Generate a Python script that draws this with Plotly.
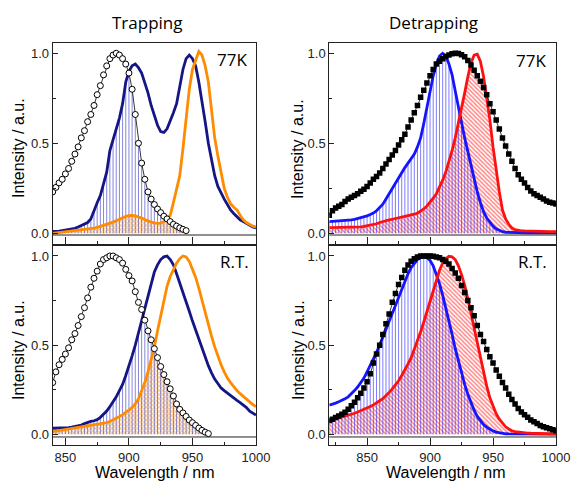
import plotly.graph_objects as go

# ---------------- data ----------------
wl_left = [840 + 2.5 * i for i in range(65)]    # 840 ... 1000 nm
wl_right = [820 + 2.5 * i for i in range(73)]   # 820 ... 1000 nm

# Trapping 77K
trap77_abs = [0.23, 0.255, 0.28, 0.30, 0.33, 0.36, 0.40, 0.44, 0.48, 0.53,
              0.57, 0.62, 0.66, 0.71, 0.77, 0.82, 0.88, 0.93, 0.97, 0.99,
              1.00, 0.99, 0.97, 0.94, 0.89, 0.80, 0.66, 0.50, 0.39, 0.30,
              0.23, 0.19, 0.16, 0.135, 0.115, 0.095, 0.08, 0.065, 0.05, 0.04,
              0.03, 0.022, 0.015]
trap77_navy = [0.010, 0.010, 0.012, 0.015, 0.018, 0.020, 0.022, 0.028, 0.035, 0.042,
               0.050, 0.060, 0.080, 0.130, 0.170, 0.210, 0.280, 0.340, 0.460, 0.520,
               0.570, 0.640, 0.720, 0.840, 0.900, 0.930, 0.940, 0.920, 0.890, 0.840,
               0.780, 0.710, 0.650, 0.600, 0.565, 0.560, 0.580, 0.620, 0.670, 0.720,
               0.820, 0.910, 0.970, 0.990, 0.970, 0.930, 0.840, 0.740, 0.620, 0.500,
               0.400, 0.320, 0.260, 0.220, 0.190, 0.160, 0.130, 0.110, 0.090, 0.075,
               0.065, 0.055, 0.045, 0.035, 0.030]
trap77_orange = [0.000, 0.002, 0.003, 0.005, 0.008, 0.010, 0.012, 0.014, 0.016, 0.018,
                 0.020, 0.022, 0.025, 0.029, 0.033, 0.038, 0.043, 0.049, 0.055, 0.062,
                 0.070, 0.079, 0.088, 0.094, 0.098, 0.100, 0.097, 0.092, 0.085, 0.076,
                 0.068, 0.062, 0.058, 0.055, 0.057, 0.065, 0.080, 0.100, 0.170, 0.240,
                 0.320, 0.470, 0.640, 0.800, 0.910, 0.960, 1.010, 0.990, 0.930, 0.840,
                 0.680, 0.530, 0.430, 0.330, 0.250, 0.200, 0.165, 0.145, 0.130, 0.100,
                 0.075, 0.060, 0.050, 0.040, 0.035]

# Trapping R.T.
trapRT_abs = [0.29, 0.35, 0.39, 0.42, 0.45, 0.485, 0.53, 0.565, 0.61, 0.66,
              0.71, 0.765, 0.825, 0.875, 0.915, 0.955, 0.98, 0.99, 1.00, 1.00,
              0.99, 0.98, 0.96, 0.925, 0.89, 0.86, 0.80, 0.74, 0.70, 0.64,
              0.58, 0.53, 0.48, 0.43, 0.38, 0.335, 0.295, 0.255, 0.215, 0.17,
              0.14, 0.12, 0.10, 0.08, 0.065, 0.05, 0.035, 0.022, 0.012, 0.004]
trapRT_navy = [0.034, 0.034, 0.034, 0.035, 0.035, 0.037, 0.040, 0.043, 0.047, 0.052,
               0.060, 0.068, 0.072, 0.076, 0.082, 0.095, 0.110, 0.130, 0.155, 0.180,
               0.210, 0.245, 0.280, 0.330, 0.380, 0.440, 0.500, 0.570, 0.640, 0.710,
               0.780, 0.850, 0.910, 0.950, 0.980, 0.995, 1.000, 0.980, 0.950, 0.900,
               0.850, 0.800, 0.745, 0.690, 0.635, 0.585, 0.530, 0.475, 0.430, 0.385,
               0.345, 0.310, 0.285, 0.260, 0.245, 0.230, 0.218, 0.205, 0.190, 0.178,
               0.165, 0.150, 0.130, 0.118, 0.108]
trapRT_orange = [0.015, 0.018, 0.021, 0.024, 0.027, 0.030, 0.034, 0.038, 0.041, 0.044,
                 0.047, 0.049, 0.051, 0.053, 0.055, 0.058, 0.062, 0.066, 0.072, 0.080,
                 0.090, 0.100, 0.110, 0.122, 0.135, 0.150, 0.170, 0.200, 0.245, 0.290,
                 0.350, 0.420, 0.490, 0.580, 0.670, 0.760, 0.830, 0.885, 0.925, 0.960,
                 0.985, 1.000, 0.995, 0.970, 0.925, 0.880, 0.820, 0.750, 0.685, 0.620,
                 0.550, 0.490, 0.435, 0.390, 0.350, 0.315, 0.290, 0.265, 0.245, 0.228,
                 0.212, 0.195, 0.180, 0.167, 0.155]

# Detrapping 77K
detr77_sq = [0.100, 0.125, 0.140, 0.150, 0.160, 0.177, 0.190, 0.200, 0.210, 0.220,
             0.233, 0.245, 0.260, 0.280, 0.300, 0.315, 0.335, 0.360, 0.385, 0.410,
             0.435, 0.460, 0.490, 0.520, 0.550, 0.590, 0.630, 0.670, 0.710, 0.755,
             0.795, 0.835, 0.875, 0.910, 0.940, 0.955, 0.970, 0.982, 0.990, 0.997,
             1.000, 0.998, 0.992, 0.980, 0.960, 0.935, 0.905, 0.875, 0.845, 0.810,
             0.770, 0.720, 0.675, 0.630, 0.580, 0.530, 0.485, 0.440, 0.400, 0.360,
             0.325, 0.300, 0.280, 0.255, 0.235, 0.220, 0.210, 0.200, 0.190, 0.180,
             0.173, 0.168, 0.163]
detr77_blue = [0.065, 0.066, 0.067, 0.068, 0.069, 0.070, 0.072, 0.075, 0.078, 0.082,
               0.086, 0.091, 0.097, 0.104, 0.112, 0.125, 0.142, 0.162, 0.190, 0.220,
               0.250, 0.280, 0.310, 0.340, 0.365, 0.390, 0.415, 0.440, 0.480, 0.530,
               0.610, 0.700, 0.790, 0.875, 0.940, 0.985, 1.000, 0.985, 0.940, 0.880,
               0.790, 0.710, 0.615, 0.530, 0.455, 0.370, 0.300, 0.230, 0.170, 0.120,
               0.085, 0.060, 0.040, 0.025, 0.015, 0.009, 0.006, 0.005, 0.004, 0.004,
               0.004, 0.003, 0.003, 0.003, 0.003, 0.002, 0.002, 0.002, 0.002, 0.002,
               0.002, 0.002, 0.002]
detr77_red = [0.032, 0.032, 0.032, 0.032, 0.032, 0.032, 0.032, 0.033, 0.034, 0.035,
              0.036, 0.038, 0.041, 0.044, 0.048, 0.053, 0.060, 0.066, 0.070, 0.074,
              0.078, 0.082, 0.085, 0.088, 0.091, 0.095, 0.100, 0.106, 0.112, 0.122,
              0.135, 0.152, 0.172, 0.195, 0.220, 0.255, 0.295, 0.340, 0.395, 0.460,
              0.530, 0.610, 0.690, 0.780, 0.870, 0.945, 0.990, 0.995, 0.955, 0.870,
              0.750, 0.630, 0.480, 0.350, 0.230, 0.130, 0.080, 0.050, 0.030, 0.020,
              0.016, 0.014, 0.013, 0.012, 0.012, 0.011, 0.011, 0.010, 0.010, 0.010,
              0.009, 0.009, 0.009]

# Detrapping R.T.
detrRT_sq = [0.078, 0.085, 0.094, 0.103, 0.113, 0.124, 0.140, 0.160, 0.180, 0.205,
             0.230, 0.260, 0.295, 0.340, 0.400, 0.450, 0.500, 0.560, 0.620, 0.675,
             0.740, 0.790, 0.840, 0.880, 0.920, 0.950, 0.970, 0.985, 0.995, 1.000,
             1.000, 1.000, 1.000, 0.998, 0.995, 0.990, 0.980, 0.970, 0.955, 0.930,
             0.905, 0.875, 0.835, 0.795, 0.750, 0.710, 0.665, 0.610, 0.560, 0.520,
             0.475, 0.435, 0.400, 0.360, 0.325, 0.290, 0.260, 0.225, 0.195, 0.170,
             0.145, 0.125, 0.110, 0.095, 0.080, 0.070, 0.060, 0.050, 0.043, 0.037,
             0.031, 0.026, 0.020]
detrRT_blue = [0.164, 0.168, 0.175, 0.183, 0.190, 0.200, 0.210, 0.225, 0.245, 0.265,
               0.290, 0.315, 0.350, 0.385, 0.420, 0.460, 0.500, 0.545, 0.590, 0.640,
               0.685, 0.730, 0.775, 0.820, 0.860, 0.900, 0.935, 0.960, 0.980, 0.990,
               0.995, 0.990, 0.975, 0.945, 0.900, 0.845, 0.780, 0.710, 0.635, 0.560,
               0.480, 0.410, 0.340, 0.280, 0.225, 0.175, 0.135, 0.100, 0.075, 0.055,
               0.040, 0.028, 0.019, 0.012, 0.008, 0.005, 0.003, 0.002, 0.002, 0.001,
               0.001, 0.001, 0.001, 0.001, 0.001, 0.001, 0.001, 0.001, 0.001, 0.001,
               0.001, 0.001, 0.001]
detrRT_red = [0.075, 0.080, 0.085, 0.090, 0.095, 0.100, 0.106, 0.112, 0.118, 0.125,
              0.132, 0.140, 0.148, 0.156, 0.165, 0.175, 0.188, 0.200, 0.215, 0.235,
              0.255, 0.275, 0.300, 0.330, 0.360, 0.395, 0.430, 0.475, 0.525, 0.575,
              0.630, 0.690, 0.750, 0.810, 0.870, 0.920, 0.960, 0.985, 0.998, 0.995,
              0.980, 0.945, 0.895, 0.835, 0.760, 0.680, 0.600, 0.520, 0.430, 0.345,
              0.270, 0.205, 0.155, 0.115, 0.085, 0.060, 0.042, 0.030, 0.020, 0.015,
              0.012, 0.010, 0.008, 0.007, 0.006, 0.005, 0.004, 0.004, 0.003, 0.003,
              0.003, 0.002, 0.002]

panel_titles = ["Trapping", "Detrapping"]
condition_labels = ["77K", "R.T.", "77K", "R.T."]
x_ticks = [850, 900, 950, 1000]
x_title = "Wavelength / nm"
y_title = "Intensity / a.u."

# ---------------- styling / layout ----------------
W, H = 571, 481
NAVY, ORANGE, BLUE, RED = "#151585", "#ff8c00", "#1414ff", "#ff1010"
STICK_L, STICK_R = "rgba(70,70,200,0.65)", "rgba(40,40,255,0.6)"
AXC = "#222222"
TICKFONT = dict(family="Liberation Sans, Arial", size=13, color="#222222")


def px(x):
    return x / W


def py(y):
    return 1 - y / H


def xdom(a, b):
    return [px(a), px(b)]


def ydom(top, bottom):
    return [py(bottom), py(top)]


panels = [
    dict(ax="", wl=wl_left, mk=trap77_abs, stick=trap77_navy, pat=trap77_orange,
         c1=NAVY, c2=ORANGE, sc=STICK_L, shape="x", psize=3, psol=0.55,
         marker="circle", xd=xdom(52.7, 256), yd=ydom(43, 244),
         xr=[840, 1000], yr=[-0.0594, 1.057], base=-0.0094, labels=False),
    dict(ax="2", wl=wl_left, mk=trapRT_abs, stick=trapRT_navy, pat=trapRT_orange,
         c1=NAVY, c2=ORANGE, sc=STICK_L, shape="x", psize=3, psol=0.55,
         marker="circle", xd=xdom(52.7, 256), yd=ydom(246, 445),
         xr=[840, 1000], yr=[-0.060, 1.056], base=-0.015, labels=True),
    dict(ax="3", wl=wl_right, mk=detr77_sq, stick=detr77_blue, pat=detr77_red,
         c1=BLUE, c2=RED, sc=STICK_R, shape="\\", psize=3, psol=0.5,
         marker="square", xd=xdom(329.3, 556), yd=ydom(43, 244),
         xr=[820, 1000], yr=[-0.0594, 1.057], base=-0.0094, labels=False),
    dict(ax="4", wl=wl_right, mk=detrRT_sq, stick=detrRT_blue, pat=detrRT_red,
         c1=BLUE, c2=RED, sc=STICK_R, shape="\\", psize=3, psol=0.5,
         marker="square", xd=xdom(329.3, 556), yd=ydom(246, 445),
         xr=[820, 1000], yr=[-0.060, 1.056], base=-0.015, labels=True),
]

fig = go.Figure()
shapes = []
for p in panels:
    xa, ya = "x" + p["ax"], "y" + p["ax"]
    n = len(p["mk"])
    wl_m = p["wl"][:n]
    # spectral overlap (pattern-filled)
    ov_pat = [min(a, b) for a, b in zip(p["pat"][:n], p["mk"])]
    fig.add_trace(go.Scatter(
        x=wl_m, y=ov_pat, xaxis=xa, yaxis=ya, mode="lines", fill="tozeroy",
        line=dict(width=0, color=p["c2"]), fillcolor="rgba(0,0,0,0)",
        fillpattern=dict(shape=p["shape"], fgcolor=p["c2"], bgcolor="rgba(0,0,0,0)",
                         size=p["psize"], solidity=p["psol"]),
        hoverinfo="skip", showlegend=False))
    # spectral overlap (drop lines)
    ov_st = [min(a, b) for a, b in zip(p["stick"][:n], p["mk"])]
    sx, sy = [], []
    for xv, yv in zip(wl_m, ov_st):
        sx += [xv, xv, None]
        sy += [0, yv, None]
    fig.add_trace(go.Scatter(x=sx, y=sy, xaxis=xa, yaxis=ya, mode="lines",
                             line=dict(width=1, color=p["sc"]),
                             hoverinfo="skip", showlegend=False))
    # emission curves
    fig.add_trace(go.Scatter(x=p["wl"], y=p["stick"], xaxis=xa, yaxis=ya, mode="lines",
                             line=dict(width=2.8, color=p["c1"]), showlegend=False))
    fig.add_trace(go.Scatter(x=p["wl"], y=p["pat"], xaxis=xa, yaxis=ya, mode="lines",
                             line=dict(width=2.8, color=p["c2"]), showlegend=False))
    # absorption / reference markers
    if p["marker"] == "circle":
        mk = dict(symbol="circle", size=6, color="white", line=dict(color="black", width=1))
    else:
        mk = dict(symbol="square", size=5.5, color="black", line=dict(width=0))
    fig.add_trace(go.Scatter(x=wl_m, y=p["mk"], xaxis=xa, yaxis=ya, mode="lines+markers",
                             line=dict(width=0.8, color="black"), marker=mk,
                             showlegend=False))
    # inner baseline of the frame
    shapes.append(dict(type="line", xref=xa + " domain", yref=ya, x0=0, x1=1,
                       y0=p["base"], y1=p["base"], line=dict(color=AXC, width=1)))

    xkey = "xaxis" + p["ax"]
    ykey = "yaxis" + p["ax"]
    fig.layout[xkey] = dict(
        domain=p["xd"], anchor=ya, range=p["xr"], showline=True, mirror=True,
        linecolor=AXC, linewidth=1, ticks="inside", ticklen=7, tickwidth=1,
        tickcolor=AXC, tickmode="array", tickvals=x_ticks,
        ticktext=[str(t) for t in x_ticks], showticklabels=p["labels"],
        minor=dict(ticks="inside", dtick=25, tick0=825, ticklen=3.5, tickcolor=AXC),
        showgrid=False, zeroline=False, tickfont=TICKFONT, automargin=False)
    fig.layout[ykey] = dict(
        domain=p["yd"], anchor=xa, range=p["yr"], showline=True, mirror=True,
        linecolor=AXC, linewidth=1, ticks="inside", ticklen=5, tickwidth=1,
        tickcolor=AXC, tickmode="array", tickvals=[0, 0.5, 1.0],
        ticktext=["0.0", "0.5", "1.0"],
        minor=dict(ticks="inside", tickvals=[0.25, 0.75], ticklen=3, tickcolor=AXC),
        showgrid=False, zeroline=False, tickfont=TICKFONT, automargin=False)

ann = []
TFONT = dict(family="Open Sans", size=17, color="black")
for txt, cx in zip(panel_titles, [148, 433]):
    ann.append(dict(text=txt, x=px(cx), y=py(22.5), xref="paper", yref="paper",
                    showarrow=False, font=TFONT, xanchor="center", yanchor="middle"))
for txt, (rx, cy) in zip(condition_labels, [(249, 59), (251, 261), (548, 60), (549, 261)]):
    ann.append(dict(text=txt, x=px(rx), y=py(cy), xref="paper", yref="paper",
                    showarrow=False, font=TFONT, xanchor="right", yanchor="middle"))
AFONT = dict(family="Liberation Sans, Arial", size=16, color="black")
for cx, cy in [(18, 148), (18, 350), (298, 149), (298, 350)]:
    ann.append(dict(text=y_title, x=px(cx), y=py(cy), xref="paper", yref="paper",
                    showarrow=False, font=AFONT, textangle=-90,
                    xanchor="center", yanchor="middle"))
for cx in [154, 445]:
    ann.append(dict(text=x_title, x=px(cx), y=py(472), xref="paper", yref="paper",
                    showarrow=False, font=AFONT, xanchor="center", yanchor="middle"))

fig.update_layout(width=W, height=H, margin=dict(l=0, r=0, t=0, b=0, autoexpand=False),
                  paper_bgcolor="white", plot_bgcolor="white",
                  shapes=shapes, annotations=ann, showlegend=False)

# drop the page's default 8 px margin so the 571x481 figure fills the window exactly
post = ("document.documentElement.style.margin='0px';"
        "document.body.style.margin='0px';"
        "document.body.style.overflow='hidden';")
fig.write_html("out.html", config={"displayModeBar": False}, post_script=post)
